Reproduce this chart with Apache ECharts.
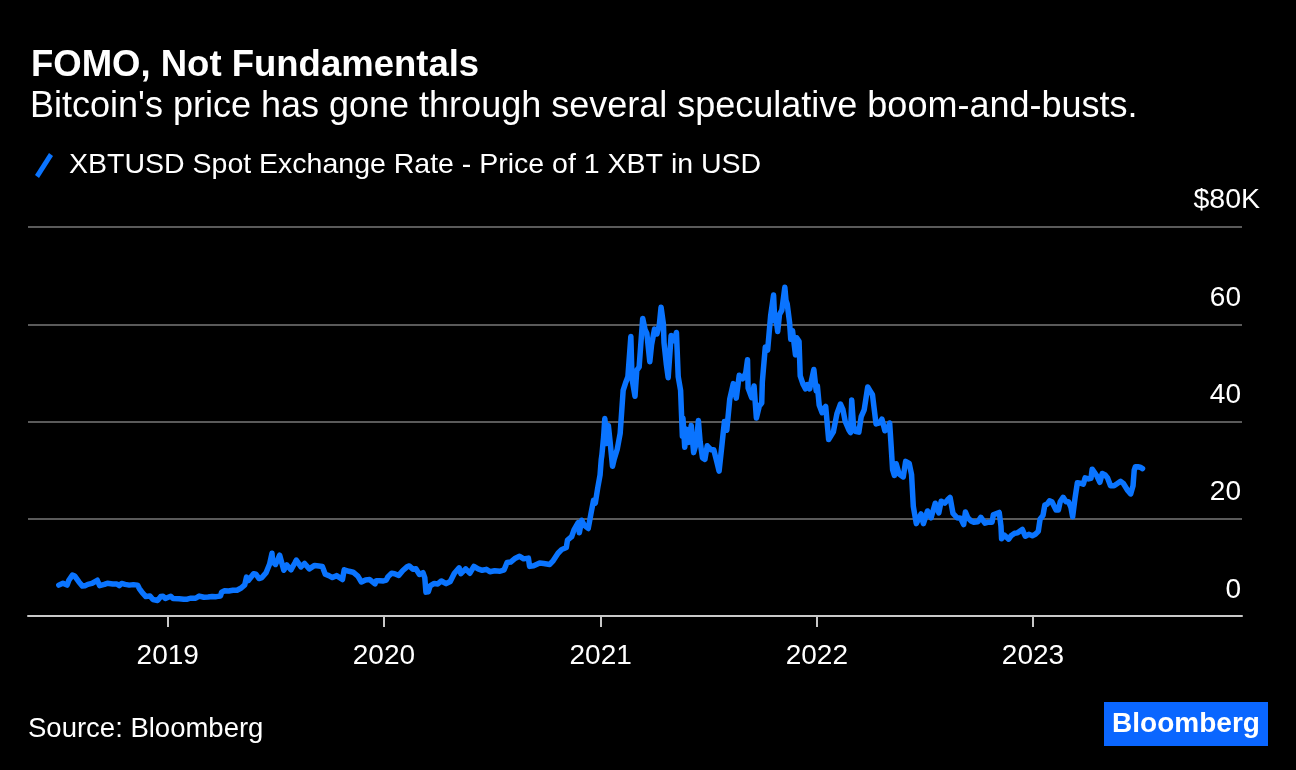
<!DOCTYPE html>
<html>
<head>
<meta charset="utf-8">
<style>
  html, body { margin: 0; padding: 0; background: #000; }
  #chart { width: 1296px; height: 770px; }
</style>
<script src="https://cdn.jsdelivr.net/npm/echarts@6/dist/echarts.min.js"></script>
</head>
<body>
<div id="chart"></div>
<script>
const FONT = "'Liberation Sans', Arial, Helvetica, sans-serif";

const titleText = 'FOMO, Not Fundamentals';
const subtitleText = "Bitcoin's price has gone through several speculative boom-and-busts.";
const seriesName = 'XBTUSD Spot Exchange Rate - Price of 1 XBT in USD';
const sourceText = 'Source: Bloomberg';

const yTickValues = [0, 20000, 40000, 60000, 80000];
const yTickLabels = ['0', '20', '40', '60', '$80K'];

// XBTUSD spot price (USD)
const dates2018 = ['2018-07-01','2018-07-08','2018-07-15','2018-07-18','2018-07-24','2018-07-28','2018-08-04','2018-08-10','2018-08-14','2018-08-19','2018-08-26','2018-09-04','2018-09-08','2018-09-16','2018-09-21','2018-09-30','2018-10-07','2018-10-11','2018-10-15','2018-10-21','2018-10-28','2018-11-04','2018-11-11','2018-11-14','2018-11-19','2018-11-20','2018-11-25','2018-11-28','2018-12-02','2018-12-07','2018-12-15','2018-12-20','2018-12-24','2018-12-28','2018-12-31'];
const prices2018 = [6350,6750,6350,7350,8400,8200,7000,6150,6200,6500,6700,7350,6250,6500,6750,6600,6600,6250,6700,6500,6350,6450,6350,5650,4800,4400,4000,4250,4100,3400,3200,4000,4050,3600,3750];

const dates2019 = ['2019-01-06','2019-01-10','2019-01-20','2019-01-28','2019-02-03','2019-02-08','2019-02-17','2019-02-23','2019-02-24','2019-03-03','2019-03-10','2019-03-17','2019-03-24','2019-03-31','2019-04-02','2019-04-07','2019-04-14','2019-04-21','2019-04-28','2019-05-05','2019-05-11','2019-05-14','2019-05-17','2019-05-26','2019-05-30','2019-06-04','2019-06-09','2019-06-16','2019-06-22','2019-06-26','2019-06-27','2019-07-02','2019-07-09','2019-07-14','2019-07-16','2019-07-21','2019-07-28','2019-08-04','2019-08-06','2019-08-14','2019-08-20','2019-08-28','2019-09-06','2019-09-13','2019-09-19','2019-09-24','2019-09-30','2019-10-06','2019-10-13','2019-10-23','2019-10-26','2019-11-03','2019-11-10','2019-11-18','2019-11-24','2019-12-01','2019-12-08','2019-12-17','2019-12-19','2019-12-25','2019-12-31'];
const prices2019 = [4050,3600,3550,3450,3450,3650,3650,4100,3800,3850,3900,4000,3980,4100,4900,5200,5150,5300,5300,5750,6400,8000,7300,8700,8600,7700,7900,8900,10700,12900,11200,10600,12500,10300,9400,10500,9500,11000,11500,10100,10800,9700,10400,10300,10200,8600,8300,7900,8300,7500,9500,9200,9000,8200,7000,7400,7500,6600,7250,7250,7200];

const dates2020 = ['2020-01-05','2020-01-08','2020-01-14','2020-01-19','2020-01-26','2020-02-02','2020-02-09','2020-02-13','2020-02-19','2020-02-24','2020-03-01','2020-03-07','2020-03-10','2020-03-12','2020-03-16','2020-03-19','2020-03-26','2020-04-01','2020-04-07','2020-04-15','2020-04-22','2020-04-29','2020-05-07','2020-05-10','2020-05-18','2020-05-25','2020-06-01','2020-06-08','2020-06-15','2020-06-22','2020-06-28','2020-07-06','2020-07-15','2020-07-22','2020-07-27','2020-08-02','2020-08-10','2020-08-17','2020-08-24','2020-09-01','2020-09-03','2020-09-10','2020-09-20','2020-09-27','2020-10-07','2020-10-13','2020-10-21','2020-10-27','2020-11-04','2020-11-06','2020-11-13','2020-11-17','2020-11-24','2020-11-26','2020-11-30','2020-12-04','2020-12-11','2020-12-16','2020-12-20','2020-12-23','2020-12-27','2020-12-31'];
const prices2020 = [7400,8100,8800,8700,8350,9350,10100,10300,9600,9700,8550,8900,7900,4900,5000,6200,6700,6600,7200,6650,7100,8800,9900,8700,9700,8800,10200,9700,9400,9600,9100,9300,9200,9500,11000,11100,11900,12300,11750,11900,10200,10350,10900,10800,10600,11400,12900,13650,14100,15600,16300,17700,19200,17100,19700,18700,18000,21300,23800,23200,26300,29000];

const dates2021 = ['2021-01-02','2021-01-03','2021-01-06','2021-01-08','2021-01-10','2021-01-11','2021-01-14','2021-01-17','2021-01-21','2021-01-24','2021-01-29','2021-02-03','2021-02-08','2021-02-12','2021-02-16','2021-02-21','2021-02-23','2021-02-28','2021-03-03','2021-03-07','2021-03-13','2021-03-17','2021-03-20','2021-03-25','2021-03-28','2021-04-02','2021-04-06','2021-04-10','2021-04-13','2021-04-17','2021-04-18','2021-04-22','2021-04-25','2021-04-30','2021-05-03','2021-05-07','2021-05-09','2021-05-12','2021-05-16','2021-05-19','2021-05-20','2021-05-23','2021-05-26','2021-05-30','2021-06-03','2021-06-07','2021-06-12','2021-06-15','2021-06-18','2021-06-22','2021-06-26','2021-06-30','2021-07-06','2021-07-11','2021-07-16','2021-07-20','2021-07-25','2021-07-29','2021-08-02','2021-08-07','2021-08-13','2021-08-18','2021-08-23','2021-08-29','2021-09-03','2021-09-06','2021-09-07','2021-09-13','2021-09-17','2021-09-21','2021-09-26','2021-09-30','2021-10-01','2021-10-06','2021-10-10','2021-10-15','2021-10-20','2021-10-22','2021-10-24','2021-10-27','2021-10-30','2021-11-03','2021-11-08','2021-11-10','2021-11-12','2021-11-16','2021-11-18','2021-11-21','2021-11-26','2021-11-28','2021-12-02','2021-12-04','2021-12-09','2021-12-13','2021-12-16','2021-12-20','2021-12-27','2021-12-31'];
const prices2021 = [32200,33000,36800,40600,38300,35500,39200,35800,30800,32300,34300,37600,46400,47900,49200,57500,48800,45200,50500,51200,61200,58900,58100,52300,55800,59000,58000,59800,63500,60000,56200,51700,49000,57700,56600,57400,58300,49200,46400,37000,40700,34700,38400,35700,39200,33600,35800,40200,35800,32500,32200,35000,34200,34200,31800,29800,35400,40000,38200,44600,47800,44800,49500,48800,50000,52700,46900,44900,47300,40700,43200,43800,48100,55300,54700,61700,66000,60700,61300,58500,62000,62900,67600,64900,64200,60400,56900,58700,53700,57200,56500,49400,47600,46700,47600,46700,50700,46300];

const dates2022 = ['2022-01-02','2022-01-05','2022-01-10','2022-01-16','2022-01-21','2022-01-24','2022-01-29','2022-02-04','2022-02-10','2022-02-14','2022-02-18','2022-02-24','2022-02-27','2022-03-01','2022-03-04','2022-03-07','2022-03-13','2022-03-17','2022-03-22','2022-03-28','2022-04-01','2022-04-05','2022-04-11','2022-04-17','2022-04-21','2022-04-26','2022-05-01','2022-05-04','2022-05-06','2022-05-09','2022-05-12','2022-05-15','2022-05-20','2022-05-27','2022-05-31','2022-06-06','2022-06-10','2022-06-13','2022-06-18','2022-06-22','2022-06-26','2022-06-30','2022-07-07','2022-07-13','2022-07-20','2022-07-26','2022-07-30','2022-08-05','2022-08-10','2022-08-14','2022-08-19','2022-08-26','2022-09-01','2022-09-06','2022-09-09','2022-09-13','2022-09-19','2022-09-23','2022-09-30','2022-10-05','2022-10-12','2022-10-18','2022-10-24','2022-10-26','2022-10-29','2022-11-05','2022-11-08','2022-11-09','2022-11-14','2022-11-21','2022-11-25','2022-12-01','2022-12-06','2022-12-14','2022-12-19','2022-12-25','2022-12-31'];
const prices2022 = [47300,43400,41800,43100,36300,36700,37900,41600,43600,42500,40000,38300,37700,44400,39100,38000,37800,41000,42400,47100,46300,45500,39500,39700,40500,38100,38500,39700,36000,30100,28900,31300,29200,28600,31800,31400,29100,22500,19000,20000,21000,19000,21600,20200,23200,21200,23600,23200,23900,24400,21100,20200,20100,18800,21400,20200,19500,19300,19400,20300,19100,19300,19300,20800,20600,21300,18500,15900,16600,15800,16500,17000,17100,17800,16400,16800,16500];

const dates2023 = ['2023-01-05','2023-01-10','2023-01-13','2023-01-18','2023-01-21','2023-01-25','2023-01-29','2023-02-02','2023-02-09','2023-02-13','2023-02-16','2023-02-21','2023-02-26','2023-03-02','2023-03-06','2023-03-09','2023-03-10','2023-03-13','2023-03-17','2023-03-22','2023-03-27','2023-03-30','2023-04-05','2023-04-09','2023-04-11','2023-04-14','2023-04-19','2023-04-24','2023-04-28','2023-05-03','2023-05-07','2023-05-12','2023-05-18','2023-05-23','2023-05-29','2023-06-03','2023-06-06','2023-06-10','2023-06-15','2023-06-19','2023-06-21','2023-06-23','2023-06-27','2023-07-01','2023-07-05'];
const prices2023 = [16800,17400,19900,20700,22800,23000,23700,23500,21800,21800,23500,24400,23500,23500,22400,20400,20200,24200,27400,27300,27100,28400,28200,28300,30200,30500,28800,27500,29300,29000,28400,26800,26800,27200,27700,27200,27200,25800,25100,26800,30000,30700,30700,30600,30300];

const allDates = [].concat(dates2018, dates2019, dates2020, dates2021, dates2022, dates2023);
const allPrices = [].concat(prices2018, prices2019, prices2020, prices2021, prices2022, prices2023);
const seriesData = allDates.map((d, i) => [d, allPrices[i]]);

const chart = echarts.init(document.getElementById('chart'), null, { renderer: 'canvas' });

const option = {
  backgroundColor: '#000000',
  animation: false,
  textStyle: { fontFamily: FONT },
  title: [
    {
      text: titleText,
      left: 26, top: 42,
      textStyle: { color: '#ffffff', fontSize: 36.5, fontWeight: 'bold', fontFamily: FONT }
    },
    {
      text: subtitleText,
      left: 25, top: 84,
      textStyle: { color: '#ffffff', fontSize: 36, fontWeight: 'normal', fontFamily: FONT }
    }
  ],
  legend: {
    left: 30, top: 146,
    itemWidth: 18, itemHeight: 25,
    itemGap: 20,
    icon: 'path://M0,22 L14,0 L18,3 L4,25 Z',
    textStyle: { color: '#ffffff', fontSize: 28.5, fontFamily: FONT, padding: [0, 0, 0, 11] },
    data: [seriesName]
  },
  grid: { left: 28, right: 54, top: 227, bottom: 154, containLabel: false },
  xAxis: {
    type: 'time',
    min: '2018-05-10',
    max: '2023-12-20',
    minInterval: 365 * 24 * 3600 * 1000,
    maxInterval: 366 * 24 * 3600 * 1000,
    axisLine: { show: true, lineStyle: { color: '#c8c8c8', width: 2 } },
    axisTick: { show: true, length: 11, lineStyle: { color: '#c8c8c8', width: 2 } },
    splitLine: { show: false },
    axisLabel: {
      color: '#ffffff', fontSize: 28, fontFamily: FONT, margin: 26,
      showMinLabel: false, showMaxLabel: false,
      formatter: '{yyyy}'
    }
  },
  yAxis: {
    type: 'value',
    position: 'right',
    min: 0, max: 80000, interval: 20000,
    axisLine: { show: false },
    axisTick: { show: false },
    splitLine: { show: true, lineStyle: { color: '#5a5a5a', width: 2 } },
    axisLabel: {
      inside: true,
      align: 'right',
      verticalAlign: 'bottom',
      margin: 1,
      padding: [0, 0, 12, 0],
      color: '#ffffff', fontSize: 28, fontFamily: FONT,
      formatter: function (v) {
        const idx = yTickValues.indexOf(v);
        const lab = idx >= 0 ? yTickLabels[idx] : '';
        if (lab.endsWith('K')) {
          return '{n|' + lab.slice(0, -1) + '}{k|K}';
        }
        return lab;
      },
      rich: {
        n: { color: '#ffffff', fontSize: 28.5, fontFamily: FONT, align: 'left' },
        k: { color: '#ffffff', fontSize: 28.5, fontFamily: FONT, align: 'left', width: 0 }
      }
    }
  },
  series: [
    {
      name: seriesName,
      type: 'line',
      data: seriesData,
      showSymbol: false,
      symbol: 'none',
      lineStyle: { color: '#0a74ff', width: 5.5, join: 'round', cap: 'round' },
      itemStyle: { color: '#0a74ff' }
    }
  ],
  graphic: [
    {
      type: 'text',
      left: 28, top: 715,
      style: { text: sourceText, fill: '#ffffff', font: '27.5px ' + FONT }
    },
    {
      type: 'group',
      left: 1104, top: 702,
      children: [
        { type: 'rect', shape: { x: 0, y: 0, width: 164, height: 44 }, style: { fill: '#0a66ff' } },
        { type: 'text', x: 82, y: 22, style: { text: 'Bloomberg', fill: '#ffffff', font: 'bold 28px ' + FONT, align: 'center', verticalAlign: 'middle' } }
      ]
    }
  ]
};

chart.setOption(option);
</script>
</body>
</html>
